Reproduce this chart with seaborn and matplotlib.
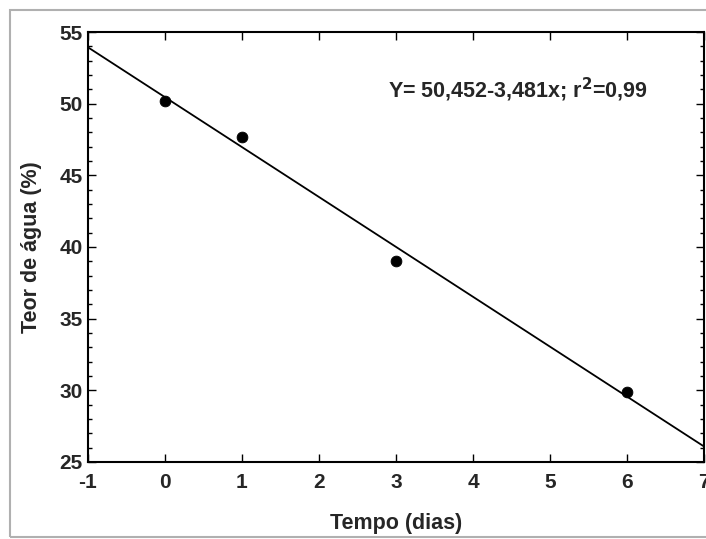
import numpy as np
import pandas as pd
import seaborn as sns
import matplotlib.pyplot as plt
from matplotlib.patches import Rectangle
from matplotlib.ticker import MultipleLocator

# Datos
tempo = [0, 1, 3, 6]
teor_agua = [50.2, 47.7, 39.0, 29.9]

# Recta ajustada Y = 50,452 - 3,481x
intercepto = 50.452
pendiente = -3.481
x_recta = np.array([-1, 7])

x_ticks = [-1, 0, 1, 2, 3, 4, 5, 6, 7]
y_ticks = [25, 30, 35, 40, 45, 50, 55]

sns.set_style('ticks')
plt.rcParams['font.family'] = ['Liberation Sans', 'DejaVu Sans']
plt.rcParams['font.weight'] = 'bold'
plt.rcParams['axes.unicode_minus'] = False

datos = pd.DataFrame({'Tempo': tempo, 'Teor': teor_agua})
recta = pd.DataFrame({'x': x_recta, 'y': intercepto + pendiente * x_recta})

fig = plt.figure(figsize=(7.06, 5.39), dpi=100)
ax = fig.add_axes([0.1246, 0.1429, 0.8725, 0.7977])

sns.lineplot(data=recta, x='x', y='y', color='black', linewidth=1.3, ax=ax)
sns.scatterplot(data=datos, x='Tempo', y='Teor', color='black', s=60,
                edgecolor='black', zorder=3, ax=ax)

ax.set_xlim(-1, 7)
ax.set_ylim(25, 55)
ax.set_xticks(x_ticks)
ax.set_yticks(y_ticks)
ax.yaxis.set_minor_locator(MultipleLocator(1))
ax.tick_params(which='both', direction='in', top=True, right=True,
               labelsize=15, width=1.0, color='black')
ax.tick_params(which='major', length=6)
ax.tick_params(which='minor', length=3)
ax.tick_params(axis='x', pad=8)
ax.tick_params(axis='y', pad=4)
for lab in ax.get_xticklabels() + ax.get_yticklabels():
    lab.set_fontweight('bold')
for sp in ax.spines.values():
    sp.set_linewidth(1.5)
    sp.set_color('black')

ax.set_xlabel('Tempo (dias)', fontsize=15.5, fontweight='bold', labelpad=15)
ax.set_ylabel('Teor de água (%)', fontsize=15.5, fontweight='bold', labelpad=12)

ax.text(0.487, 0.865, r'Y= 50,452-3,481x; r$^\mathbf{2}$=0,99',
        transform=ax.transAxes, fontsize=15.5, fontweight='bold', va='center')

# Marco exterior gris
fig.add_artist(Rectangle((10 / 706, 2 / 539), 1.0, 527 / 539,
                         transform=fig.transFigure, fill=False,
                         edgecolor='#b0b0b0', linewidth=1.5))

fig.savefig('out.png', dpi=100)
